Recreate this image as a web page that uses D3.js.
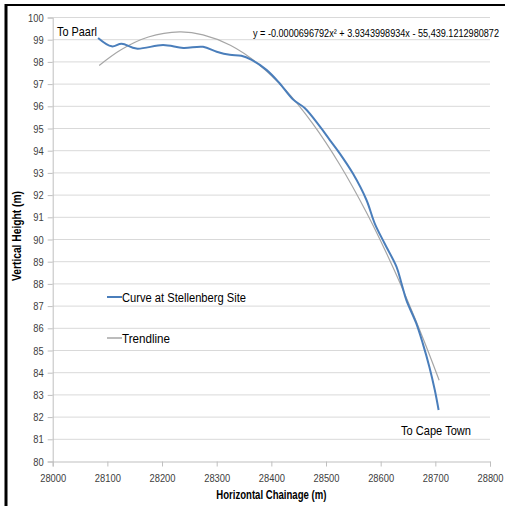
<!DOCTYPE html>
<html><head><meta charset="utf-8">
<script src="https://cdn.jsdelivr.net/npm/d3@7"></script>
<style>body{margin:0;background:#fff}svg{display:block}text{font-family:"Liberation Sans",Arial,sans-serif}</style>
</head><body>
<svg id="c" width="505" height="506"></svg>
<script>
// Curve at Stellenberg Site: horizontal chainage (m)
const curveX = [28083,28108,28126,28153,28202,28239,28275,28300,28324,28345,28364,28391,28415,28440,28461,28489,28507,28525,28549,28574,28589,28607,28629,28638,28647,28665,28677,28689,28699,28706];
// vertical height (m)
const curveY = [99.08,98.70,98.82,98.60,98.76,98.63,98.68,98.46,98.32,98.28,98.09,97.64,97.04,96.30,95.92,95.08,94.48,93.88,92.98,91.78,90.73,89.83,88.77,88.03,87.27,86.23,85.32,84.27,83.22,82.32];
// Trendline (polynomial, order 2)
const trendX = [28085,28125,28175,28232,28275,28325,28375,28425,28475,28525,28575,28625,28675,28707];
const trendY = [97.84,98.55,99.12,99.35,99.22,98.75,97.93,96.76,95.24,93.38,91.17,88.61,85.70,83.66];
const xTicks = [28000,28100,28200,28300,28400,28500,28600,28700,28800];
const yTicks = [80,81,82,83,84,85,86,87,88,89,90,91,92,93,94,95,96,97,98,99,100];
const seriesNames = ["Curve at Stellenberg Site","Trendline"];
const equation = "y = -0.0000696792x\u00B2 + 3.9343998934x - 55,439.1212980872";

const svg = d3.select("#c");
const x = d3.scaleLinear().domain([28000,28800]).range([52.7,490]);
const y = d3.scaleLinear().domain([80,100]).range([461.5,17.5]);

// frame
svg.append("line").attr("x1",6).attr("x2",505).attr("y1",5).attr("y2",5).attr("stroke","#000").attr("stroke-width",2);
svg.append("line").attr("x1",6).attr("x2",6).attr("y1",4).attr("y2",506).attr("stroke","#000").attr("stroke-width",3);

// gridlines
svg.append("g").selectAll("line").data(yTicks.filter(d=>d>80)).join("line")
  .attr("x1",x(28000)).attr("x2",x(28800)).attr("y1",d=>y(d)).attr("y2",d=>y(d))
  .attr("stroke","#d9d9d9").attr("stroke-width",1);

// axes
const yAxis = d3.axisLeft(y).tickValues(yTicks).tickSize(5).tickPadding(4).tickFormat(d3.format("d"));
const gy = svg.append("g").attr("transform",`translate(${x(28000)},0)`).call(yAxis);
const xAxis = d3.axisBottom(x).tickValues(xTicks).tickSize(5).tickPadding(7).tickFormat(d3.format("d"));
const gx = svg.append("g").attr("transform",`translate(0,${y(80)})`).call(xAxis);
[gx,gy].forEach(g=>{
  g.select(".domain").attr("stroke","#bfbfbf");
  g.selectAll(".tick line").attr("stroke","#bfbfbf");
  g.selectAll(".tick text").attr("fill","#404040").attr("font-size",11.5)
    .style("font-family",'"Liberation Sans",Arial,sans-serif')
    .attr("textLength",function(){return this.textContent.length*5.2;})
    .attr("lengthAdjust","spacingAndGlyphs");
});

// lines
const line = d3.line().x(d=>x(d[0])).y(d=>y(d[1])).curve(d3.curveCatmullRom.alpha(0.5));
svg.append("path").datum(trendX.map((v,i)=>[v,trendY[i]])).attr("d",line)
  .attr("fill","none").attr("stroke","#a6a6a6").attr("stroke-width",1.2);
svg.append("path").datum(curveX.map((v,i)=>[v,curveY[i]])).attr("d",line)
  .attr("fill","none").attr("stroke","#4a7ebb").attr("stroke-width",2);

function txt(tx,ty,s,fs,len,extra){
  const t = svg.append("text").attr("x",tx).attr("y",ty).attr("font-size",fs).attr("fill","#000")
    .attr("textLength",len).attr("lengthAdjust","spacingAndGlyphs").text(s);
  if(extra) extra(t);
  return t;
}
// labels
txt(57,36,"To Paarl",13,40);
txt(253,37,equation,10.5,246);
txt(401,435,"To Cape Town",13,70);

// legend
const leg = [[seriesNames[0],297,"#4a7ebb",2,124],[seriesNames[1],338,"#a6a6a6",1.5,48]];
leg.forEach(([t,ly,c,w,len])=>{
  svg.append("line").attr("x1",107).attr("x2",122).attr("y1",ly).attr("y2",ly).attr("stroke",c).attr("stroke-width",w);
  txt(122,ly+4.5,t,12.5,len);
});

// axis titles
txt(x(28400),499,"Horizontal Chainage (m)",12,110,t=>t.attr("text-anchor","middle").attr("font-weight","bold"));
svg.append("text").attr("transform",`translate(21,236) rotate(-90)`).attr("text-anchor","middle")
  .attr("font-size",12).attr("font-weight","bold").attr("fill","#000")
  .attr("textLength",90).attr("lengthAdjust","spacingAndGlyphs").text("Vertical Height (m)");
</script>
</body></html>
